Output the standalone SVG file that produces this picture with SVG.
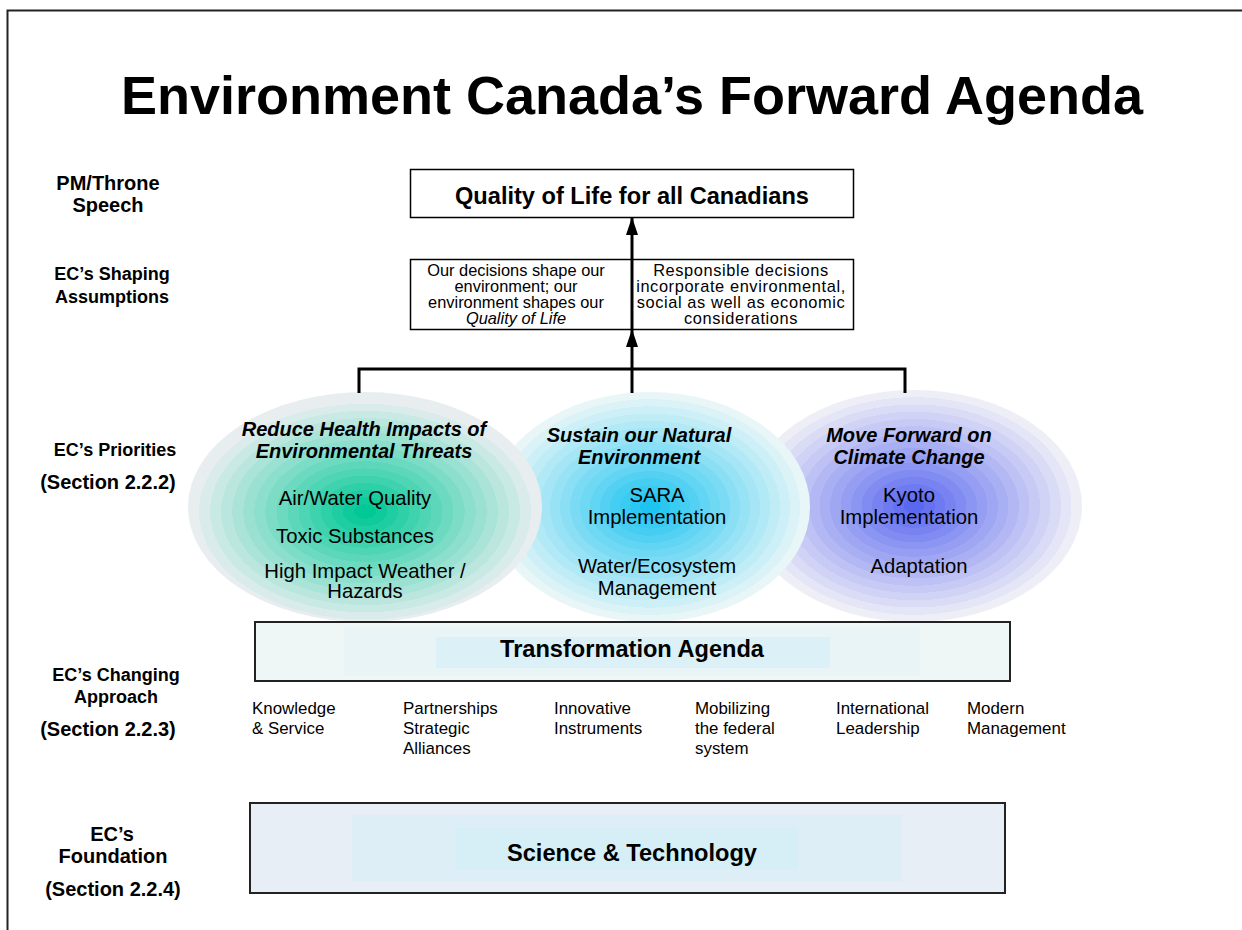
<svg xmlns="http://www.w3.org/2000/svg" width="1242" height="930" viewBox="0 0 1242 930">
  <style>
    text { font-family: "Liberation Sans", Arial, sans-serif; fill: #000; }
    .title { font-size: 54px; font-weight: bold; text-anchor: middle; }
    .side { font-size: 18px; font-weight: bold; text-anchor: middle; }
    .side-lg { font-size: 20px; font-weight: bold; text-anchor: middle; }
    .box { fill: #fff; stroke: #000; stroke-width: 1.5; }
    .head { font-size: 23.6px; font-weight: bold; text-anchor: middle; }
    .note { font-size: 16.4px; text-anchor: middle; }
    .note-r { font-size: 16.4px; letter-spacing: 0.6px; text-anchor: middle; }
    .prio { font-size: 20px; font-weight: bold; font-style: italic; text-anchor: middle; }
    .item { font-size: 20.3px; text-anchor: middle; }
    .lever { font-size: 16.9px; }
    .wire { fill: none; stroke: #000; stroke-width: 3; }
    .band { stroke: #222; stroke-width: 2; }
  </style>
  <defs>
    <!-- stepped radial fills give the banded rings -->
    <radialGradient id="gHealth" cx="0.5" cy="0.52" r="0.5">
      <stop offset="0" stop-color="#00c896"/><stop offset="0.0625" stop-color="#00c896"/>
      <stop offset="0.0625" stop-color="#0fcb9c"/><stop offset="0.125" stop-color="#0fcb9c"/>
      <stop offset="0.125" stop-color="#1fcda2"/><stop offset="0.1875" stop-color="#1fcda2"/>
      <stop offset="0.1875" stop-color="#2ed0a8"/><stop offset="0.25" stop-color="#2ed0a8"/>
      <stop offset="0.25" stop-color="#3ed2ae"/><stop offset="0.3125" stop-color="#3ed2ae"/>
      <stop offset="0.3125" stop-color="#4dd5b4"/><stop offset="0.375" stop-color="#4dd5b4"/>
      <stop offset="0.375" stop-color="#5dd7ba"/><stop offset="0.4375" stop-color="#5dd7ba"/>
      <stop offset="0.4375" stop-color="#6cdac0"/><stop offset="0.5" stop-color="#6cdac0"/>
      <stop offset="0.5" stop-color="#7cdcc6"/><stop offset="0.5625" stop-color="#7cdcc6"/>
      <stop offset="0.5625" stop-color="#8bdfcc"/><stop offset="0.625" stop-color="#8bdfcc"/>
      <stop offset="0.625" stop-color="#9be1d2"/><stop offset="0.6875" stop-color="#9be1d2"/>
      <stop offset="0.6875" stop-color="#aae4d8"/><stop offset="0.75" stop-color="#aae4d8"/>
      <stop offset="0.75" stop-color="#bae6de"/><stop offset="0.8125" stop-color="#bae6de"/>
      <stop offset="0.8125" stop-color="#c9e9e4"/><stop offset="0.875" stop-color="#c9e9e4"/>
      <stop offset="0.875" stop-color="#d9ebea"/><stop offset="0.9375" stop-color="#d9ebea"/>
      <stop offset="0.9375" stop-color="#e8eef0"/><stop offset="1" stop-color="#e8eef0"/>
    </radialGradient>
    <radialGradient id="gNature" cx="0.5" cy="0.5" r="0.5">
      <stop offset="0" stop-color="#1ec4f0"/><stop offset="0.0625" stop-color="#1ec4f0"/>
      <stop offset="0.0625" stop-color="#2bc7f1"/><stop offset="0.125" stop-color="#2bc7f1"/>
      <stop offset="0.125" stop-color="#39cbf1"/><stop offset="0.1875" stop-color="#39cbf1"/>
      <stop offset="0.1875" stop-color="#46cef2"/><stop offset="0.25" stop-color="#46cef2"/>
      <stop offset="0.25" stop-color="#54d1f2"/><stop offset="0.3125" stop-color="#54d1f2"/>
      <stop offset="0.3125" stop-color="#61d5f3"/><stop offset="0.375" stop-color="#61d5f3"/>
      <stop offset="0.375" stop-color="#6fd8f3"/><stop offset="0.4375" stop-color="#6fd8f3"/>
      <stop offset="0.4375" stop-color="#7cdbf4"/><stop offset="0.5" stop-color="#7cdbf4"/>
      <stop offset="0.5" stop-color="#8adff4"/><stop offset="0.5625" stop-color="#8adff4"/>
      <stop offset="0.5625" stop-color="#97e2f5"/><stop offset="0.625" stop-color="#97e2f5"/>
      <stop offset="0.625" stop-color="#a5e5f5"/><stop offset="0.6875" stop-color="#a5e5f5"/>
      <stop offset="0.6875" stop-color="#b2e9f6"/><stop offset="0.75" stop-color="#b2e9f6"/>
      <stop offset="0.75" stop-color="#c0ecf6"/><stop offset="0.8125" stop-color="#c0ecf6"/>
      <stop offset="0.8125" stop-color="#cdeff7"/><stop offset="0.875" stop-color="#cdeff7"/>
      <stop offset="0.875" stop-color="#dbf3f7"/><stop offset="0.9375" stop-color="#dbf3f7"/>
      <stop offset="0.9375" stop-color="#e8f6f8"/><stop offset="1" stop-color="#e8f6f8"/>
    </radialGradient>
    <radialGradient id="gClimate" cx="0.5" cy="0.5" r="0.5">
      <stop offset="0" stop-color="#5a68f0"/><stop offset="0.0625" stop-color="#5a68f0"/>
      <stop offset="0.0625" stop-color="#6471f0"/><stop offset="0.125" stop-color="#6471f0"/>
      <stop offset="0.125" stop-color="#6e7af1"/><stop offset="0.1875" stop-color="#6e7af1"/>
      <stop offset="0.1875" stop-color="#7883f1"/><stop offset="0.25" stop-color="#7883f1"/>
      <stop offset="0.25" stop-color="#818cf2"/><stop offset="0.3125" stop-color="#818cf2"/>
      <stop offset="0.3125" stop-color="#8b95f2"/><stop offset="0.375" stop-color="#8b95f2"/>
      <stop offset="0.375" stop-color="#959ef2"/><stop offset="0.4375" stop-color="#959ef2"/>
      <stop offset="0.4375" stop-color="#9fa7f3"/><stop offset="0.5" stop-color="#9fa7f3"/>
      <stop offset="0.5" stop-color="#a9aff3"/><stop offset="0.5625" stop-color="#a9aff3"/>
      <stop offset="0.5625" stop-color="#b3b8f4"/><stop offset="0.625" stop-color="#b3b8f4"/>
      <stop offset="0.625" stop-color="#bdc1f4"/><stop offset="0.6875" stop-color="#bdc1f4"/>
      <stop offset="0.6875" stop-color="#c7caf4"/><stop offset="0.75" stop-color="#c7caf4"/>
      <stop offset="0.75" stop-color="#d0d3f5"/><stop offset="0.8125" stop-color="#d0d3f5"/>
      <stop offset="0.8125" stop-color="#dadcf5"/><stop offset="0.875" stop-color="#dadcf5"/>
      <stop offset="0.875" stop-color="#e4e5f6"/><stop offset="0.9375" stop-color="#e4e5f6"/>
      <stop offset="0.9375" stop-color="#eeeef6"/><stop offset="1" stop-color="#eeeef6"/>
    </radialGradient>
    <marker id="head" viewBox="0 0 18 12" refX="18" refY="6" markerWidth="18" markerHeight="12" markerUnits="userSpaceOnUse" orient="auto">
      <path d="M0 0 L18 6 L0 12 Z" fill="#000"/>
    </marker>
  </defs>

  <!-- page frame -->
  <path d="M7.5 930 V10.5 H1242" fill="none" stroke="#222" stroke-width="2"/>

  <text class="title" x="632" y="114">Environment Canada’s Forward Agenda</text>

  <!-- row labels -->
  <g id="row-labels">
    <text class="side-lg" x="108" y="190">PM/Throne</text>
    <text class="side-lg" x="108" y="212">Speech</text>
    <text class="side" x="112" y="280" font-size="18.4">EC’s Shaping</text>
    <text class="side" x="112" y="303" font-size="18.4">Assumptions</text>
    <text class="side" x="115" y="456">EC’s Priorities</text>
    <text class="side-lg" x="108" y="489">(Section 2.2.2)</text>
    <text class="side" x="116" y="681">EC’s Changing</text>
    <text class="side" x="116" y="703">Approach</text>
    <text class="side-lg" x="108" y="736">(Section 2.2.3)</text>
    <text class="side-lg" x="112" y="841">EC’s</text>
    <text class="side-lg" x="113" y="863">Foundation</text>
    <text class="side-lg" x="113" y="896">(Section 2.2.4)</text>
  </g>

  <!-- goal -->
  <g id="quality-of-life">
    <rect class="box" x="410.5" y="169.5" width="443" height="48"/>
    <text class="head" x="632" y="204">Quality of Life for all Canadians</text>
  </g>

  <!-- shaping assumptions -->
  <g id="assumptions">
    <rect class="box" x="410.5" y="259.5" width="443" height="70"/>
    <text class="note" x="516" y="276">Our decisions shape our</text>
    <text class="note" x="516" y="292">environment; our</text>
    <text class="note" x="516" y="308">environment shapes our</text>
    <text class="note" x="516" y="324" font-style="italic">Quality of Life</text>
    <text class="note-r" x="741" y="276">Responsible decisions</text>
    <text class="note-r" x="741" y="292">incorporate environmental,</text>
    <text class="note-r" x="741" y="308">social as well as economic</text>
    <text class="note-r" x="741" y="324">considerations</text>
  </g>

  <!-- priorities (drawn right to left so the left one sits on top) -->
  <g id="climate">
    <ellipse cx="914" cy="506" rx="168" ry="116" fill="url(#gClimate)"/>
    <text class="prio" x="909" y="442">Move Forward on</text>
    <text class="prio" x="909" y="464">Climate Change</text>
    <text class="item" x="909" y="502">Kyoto</text>
    <text class="item" x="909" y="524">Implementation</text>
    <text class="item" x="919" y="573">Adaptation</text>
  </g>
  <g id="nature">
    <ellipse cx="650" cy="507" rx="160" ry="115" fill="url(#gNature)"/>
    <text class="prio" x="639" y="442">Sustain our Natural</text>
    <text class="prio" x="639" y="464">Environment</text>
    <text class="item" x="657" y="502">SARA</text>
    <text class="item" x="657" y="524">Implementation</text>
    <text class="item" x="657" y="573">Water/Ecosystem</text>
    <text class="item" x="657" y="595">Management</text>
  </g>
  <g id="health">
    <ellipse cx="365" cy="507" rx="177" ry="115" fill="url(#gHealth)"/>
    <text class="prio" x="364" y="436">Reduce Health Impacts of</text>
    <text class="prio" x="364" y="458">Environmental Threats</text>
    <text class="item" x="355" y="505">Air/Water Quality</text>
    <text class="item" x="355" y="543">Toxic Substances</text>
    <text class="item" x="365" y="578">High Impact Weather /</text>
    <text class="item" x="365" y="598">Hazards</text>
  </g>

  <!-- connectors -->
  <g id="connectors">
    <path class="wire" d="M359 393 V369 H905 V393"/>
    <line class="wire" x1="632" y1="393" x2="632" y2="329" marker-end="url(#head)"/>
    <line class="wire" x1="632" y1="329" x2="632" y2="217" marker-end="url(#head)"/>
  </g>

  <!-- changing approach -->
  <g id="transformation">
    <rect class="band" x="255" y="622" width="755" height="59" fill="#eef6f6"/>
    <rect x="344" y="627" width="576" height="49" fill="#e8f4f6"/>
    <rect x="436" y="637" width="394" height="31" fill="#dcf0f8"/>
    <text class="head" x="632" y="657">Transformation Agenda</text>
  </g>
  <g id="levers">
    <text class="lever" x="252" y="714">Knowledge</text>
    <text class="lever" x="252" y="734">&amp; Service</text>
    <text class="lever" x="403" y="714">Partnerships</text>
    <text class="lever" x="403" y="734">Strategic</text>
    <text class="lever" x="403" y="754">Alliances</text>
    <text class="lever" x="554" y="714">Innovative</text>
    <text class="lever" x="554" y="734">Instruments</text>
    <text class="lever" x="695" y="714">Mobilizing</text>
    <text class="lever" x="695" y="734">the federal</text>
    <text class="lever" x="695" y="754">system</text>
    <text class="lever" x="836" y="714">International</text>
    <text class="lever" x="836" y="734">Leadership</text>
    <text class="lever" x="967" y="714">Modern</text>
    <text class="lever" x="967" y="734">Management</text>
  </g>

  <!-- foundation -->
  <g id="science">
    <rect class="band" x="250" y="803" width="755" height="90" fill="#e8eef6"/>
    <rect x="352" y="815" width="550" height="66" fill="#ddeef6"/>
    <rect x="456" y="828" width="342" height="41" fill="#d6eff6"/>
    <text class="head" x="632" y="861">Science &amp; Technology</text>
  </g>
</svg>
